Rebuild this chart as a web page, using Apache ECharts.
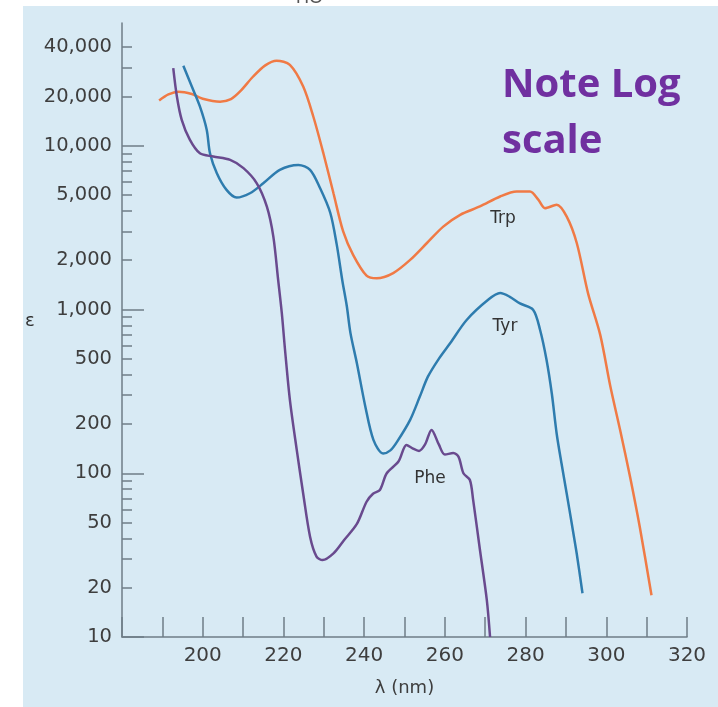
<!DOCTYPE html>
<html lang="en">
  <head>
    <meta charset="UTF-8" />
    <title>Trp / Tyr / Phe absorbance (log scale)</title>
    <script src="https://cdn.jsdelivr.net/npm/echarts@6/dist/echarts.min.js"></script>
    <style>
      * {
        margin: 0;
        padding: 0;
      }
      body {
        background: #fff;
        width: 718px;
        height: 707px;
        position: relative;
        overflow: hidden;
      }
      #bg {
        position: absolute;
        left: 23px;
        top: 6px;
        right: 0;
        bottom: 0;
        background: #d8eaf4;
      }
      #main {
        position: absolute;
        left: 0;
        top: 0;
        width: 718px;
        height: 707px;
      }
    </style>
  </head>
  <body>
    <div id="bg"></div>
    <div id="main"></div>
    <script>
      // wavelength (nm) / molar absorptivity
      var trpNm = [189.2, 191.5, 194, 197.3, 200, 204.3, 207, 209.2, 212.5, 215.5, 218.3, 221.6, 224.9, 227.4, 229.9, 232.4, 234.8, 237.3, 240.6, 243.1, 247.2, 251.4, 255.5, 259.6, 263.8, 268.7, 273.7, 277.8, 281.1, 283.2, 284.8, 287.7, 290.2, 292.7, 295.5, 298.5, 301, 303.4, 305.9, 308.3, 311.2];
      var trpEps = [18900, 20600, 21400, 20700, 19400, 18600, 19300, 21400, 26500, 31000, 33100, 31200, 23000, 15100, 9000, 5130, 3000, 2150, 1610, 1550, 1670, 2010, 2540, 3210, 3790, 4260, 4900, 5250, 5250, 4670, 4160, 4360, 3690, 2540, 1250, 700, 340, 185, 95, 47, 18];

      var tyrNm = [195.2, 197.3, 199.3, 201, 201.8, 203.5, 205.9, 208.4, 211.7, 215, 219.1, 223.7, 226.6, 229.1, 231.6, 233.2, 234.6, 235.7, 236.6, 238.2, 240.3, 242.3, 244.7, 246.5, 248.1, 251.4, 253.8, 255.8, 258.5, 261.3, 265.4, 270.8, 273.7, 276, 278.6, 281.9, 283.6, 285.2, 286.5, 287.7, 288.9, 290.2, 291.4, 292.7, 294.1];
      var tyrEps = [30800, 23000, 17400, 12500, 9000, 6800, 5380, 4830, 5130, 5900, 7130, 7640, 7130, 5500, 3900, 2500, 1500, 1050, 720, 470, 255, 160, 132, 138, 155, 212, 294, 389, 500, 622, 863, 1150, 1260, 1200, 1090, 995, 750, 492, 307, 175, 115, 75, 50, 32, 18.5];

      var pheNm = [192.7, 193.6, 194.8, 196.8, 199.3, 202.6, 206.8, 210.1, 213.4, 215.9, 217.5, 218.7, 219.6, 220.4, 221.6, 223.3, 224.9, 226.6, 228.2, 229.7, 232.4, 235, 238.2, 240.6, 242.2, 243.9, 245.6, 248.5, 250.5, 252, 253.6, 255.1, 256.7, 258.5, 260, 262.1, 263.4, 264.6, 266.2, 267, 268.7, 270.4, 271.2];
      var pheEps = [29800, 20000, 14400, 10900, 9000, 8600, 8200, 7300, 5900, 4250, 2790, 1510, 950, 566, 281, 139, 75, 41, 31, 29.5, 32.4, 39, 49, 67, 75, 79, 100, 118, 149, 142, 137, 150, 184, 150, 130, 133, 126, 100, 91, 69, 34, 16.8, 10];

      // y tick labels and tick marks (log axis)
      var yLabels = [10, 20, 50, 100, 200, 500, 1000, 2000, 5000, 10000, 20000, 40000];
      var yMinorTicks = [20, 30, 40, 50, 60, 70, 80, 90, 200, 300, 400, 500, 600, 700, 800, 900, 2000, 3000, 4000, 5000, 6000, 7000, 8000, 9000, 20000, 30000, 40000];
      var yMajorTicks = [10, 100, 1000, 10000];

      var yMin = 10;
      var yMax = Math.pow(10, 4.75);
      var axisColor = '#6f7d87';
      var textColor = '#3e3e3e';

      function pairs(xs, ys) {
        return xs.map(function (x, i) {
          return [x, ys[i]];
        });
      }
      function lg(arr) {
        return arr.map(function (v) {
          return Math.log10(v);
        });
      }
      function curveLabel(name, coord) {
        return {
          symbol: 'rect',
          symbolSize: 1,
          itemStyle: { color: 'rgba(0,0,0,0)' },
          label: {
            show: true,
            position: 'inside',
            formatter: name,
            color: '#333',
            fontFamily: 'DejaVu Sans',
            fontSize: 17
          },
          data: [{ name: name, coord: coord }]
        };
      }

      var myChart = echarts.init(document.getElementById('main'));
      myChart.setOption({
        animation: false,
        grid: { left: 122, top: 23, width: 565, height: 614, outerBoundsMode: 'none', containLabel: false },
        xAxis: {
          type: 'value',
          min: 180,
          max: 320,
          interval: 10,
          axisLine: { lineStyle: { color: axisColor, width: 1.5 } },
          axisTick: { inside: true, length: 20, lineStyle: { color: axisColor, width: 1.5 } },
          axisLabel: {
            margin: 9,
            color: textColor,
            fontFamily: 'DejaVu Sans',
            fontSize: 20,
            formatter: function (v) {
              return v >= 200 && v % 20 === 0 ? String(v) : '';
            }
          },
          splitLine: { show: false },
          name: 'λ (nm)',
          nameLocation: 'middle',
          nameGap: 42,
          nameTextStyle: { color: textColor, fontFamily: 'DejaVu Sans', fontSize: 18 }
        },
        yAxis: [
          {
            // data axis
            type: 'log',
            logBase: 10,
            position: 'left',
            min: yMin,
            max: yMax,
            axisLine: { show: true, lineStyle: { color: axisColor, width: 1.5 } },
            axisTick: { show: false },
            axisLabel: { show: false },
            splitLine: { show: false }
          },
          {
            // labels + short ticks, same scale in log10 units
            type: 'value',
            position: 'left',
            offset: 0,
            min: 1,
            max: 4.75,
            axisLine: { show: false },
            axisTick: {
              show: true,
              inside: true,
              length: 10,
              customValues: lg(yMinorTicks),
              lineStyle: { color: axisColor, width: 1.5 }
            },
            axisLabel: {
              margin: 10,
              color: textColor,
              fontFamily: 'DejaVu Sans',
              fontSize: 19.5,
              customValues: lg(yLabels),
              formatter: function (v) {
                return Math.round(Math.pow(10, v)).toLocaleString('en-US');
              }
            },
            splitLine: { show: false }
          },
          {
            // long ticks at the decades
            type: 'value',
            position: 'left',
            offset: 0,
            min: 1,
            max: 4.75,
            axisLine: { show: false },
            axisTick: {
              show: true,
              inside: true,
              length: 22,
              customValues: lg(yMajorTicks),
              lineStyle: { color: axisColor, width: 1.5 }
            },
            axisLabel: { show: false },
            splitLine: { show: false }
          }
        ],
        graphic: [
          {
            type: 'text',
            left: 296,
            top: -11,
            style: { text: 'HO', fill: '#555', fontFamily: 'Liberation Sans', fontSize: 18 }
          },
          {
            type: 'text',
            left: 25,
            top: 312,
            style: { text: 'ε', fill: '#333', fontFamily: 'DejaVu Sans', fontSize: 18 }
          },
          {
            type: 'text',
            left: 502,
            top: 66,
            style: { text: 'Note Log', fill: '#7030a0', fontFamily: 'Open Sans', fontWeight: 'bold', fontSize: 40 }
          },
          {
            type: 'text',
            left: 502,
            top: 122,
            style: { text: 'scale', fill: '#7030a0', fontFamily: 'Open Sans', fontWeight: 'bold', fontSize: 40 }
          }
        ],
        series: [
          {
            name: 'Trp',
            type: 'line',
            yAxisIndex: 0,
            smooth: 0.3,
            showSymbol: false,
            lineStyle: { color: '#f07a45', width: 2.5 },
            data: pairs(trpNm, trpEps),
            markPoint: curveLabel('Trp', [274.4, 3600])
          },
          {
            name: 'Tyr',
            type: 'line',
            yAxisIndex: 0,
            smooth: 0.3,
            showSymbol: false,
            lineStyle: { color: '#2e7cae', width: 2.5 },
            data: pairs(tyrNm, tyrEps),
            markPoint: curveLabel('Tyr', [274.9, 790])
          },
          {
            name: 'Phe',
            type: 'line',
            yAxisIndex: 0,
            smooth: 0.3,
            showSymbol: false,
            lineStyle: { color: '#694a8e', width: 2.5 },
            data: pairs(pheNm, pheEps),
            markPoint: curveLabel('Phe', [256.3, 93])
          }
        ]
      });
    </script>
  </body>
</html>
